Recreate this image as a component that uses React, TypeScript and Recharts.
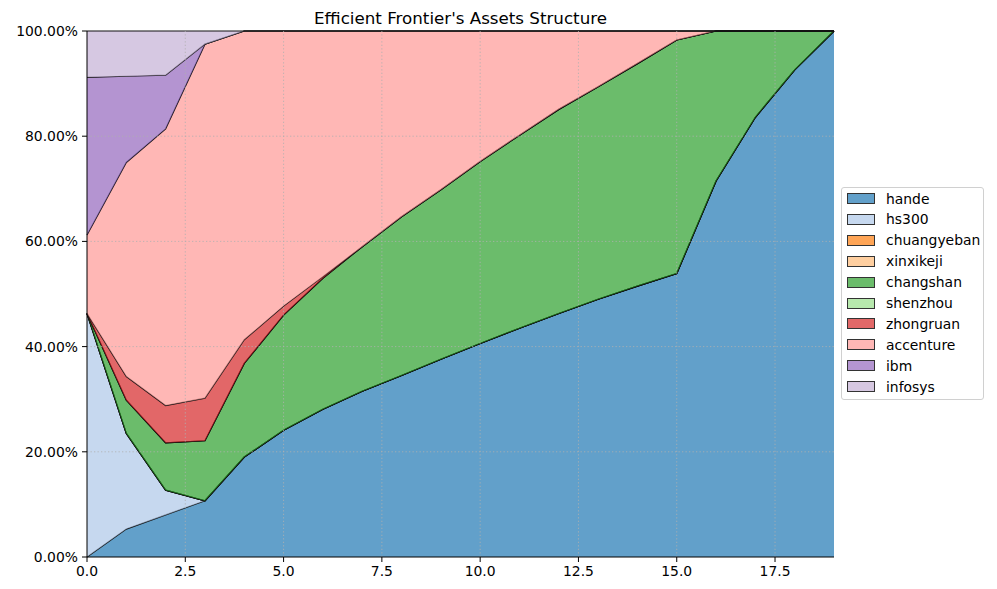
import React from "react";
import {
  AreaChart,
  Area,
  XAxis,
  YAxis,
  ReferenceLine,
} from "recharts";

const steps = [0, 1, 2, 3, 4, 5, 6, 7, 8, 9, 10, 11, 12, 13, 14, 15, 16, 17, 18, 19];

// weights in percent
const hande = [0, 5.3, 8.0, 10.7, 19.0, 24.1, 28.1, 31.5, 34.5, 37.6, 40.6, 43.5, 46.3, 49.0, 51.5, 53.9, 71.5, 83.6, 92.6, 100];
const hs300 = [46.3, 18.2, 4.7, 0, 0, 0, 0, 0, 0, 0, 0, 0, 0, 0, 0, 0, 0, 0, 0, 0];
const chuangyeban = [0, 0, 0, 0, 0, 0, 0, 0, 0, 0, 0, 0, 0, 0, 0, 0, 0, 0, 0, 0];
const xinxikeji = [0, 0, 0, 0, 0, 0, 0, 0, 0, 0, 0, 0, 0, 0, 0, 0, 0, 0, 0, 0];
const changshan = [0, 6.3, 9.0, 11.4, 17.8, 21.9, 24.9, 27.5, 30.2, 32.2, 34.6, 36.7, 38.8, 40.4, 42.3, 44.4, 28.5, 16.4, 7.4, 0];
const shenzhou = [0, 0, 0, 0, 0, 0, 0, 0, 0, 0, 0, 0, 0, 0, 0, 0, 0, 0, 0, 0];
const zhongruan = [0, 4.5, 7.1, 8.1, 4.5, 1.7, 0.3, 0, 0, 0, 0, 0, 0, 0, 0, 0, 0, 0, 0, 0];
const accenture = [14.9, 40.7, 52.6, 67.3, 58.7, 52.3, 46.7, 41.0, 35.3, 30.2, 24.8, 19.8, 14.9, 10.6, 6.2, 1.7, 0, 0, 0, 0];
const ibm = [30.0, 16.4, 10.2, 0, 0, 0, 0, 0, 0, 0, 0, 0, 0, 0, 0, 0, 0, 0, 0, 0];
const infosys = [8.8, 8.6, 8.4, 2.5, 0, 0, 0, 0, 0, 0, 0, 0, 0, 0, 0, 0, 0, 0, 0, 0];

const xTicks = [0, 2.5, 5, 7.5, 10, 12.5, 15, 17.5];
const yTicks = [0, 20, 40, 60, 80, 100];

const series = [
  { key: "hande", values: hande, color: "#1f77b4" },
  { key: "hs300", values: hs300, color: "#aec7e8" },
  { key: "chuangyeban", values: chuangyeban, color: "#ff7f0e" },
  { key: "xinxikeji", values: xinxikeji, color: "#ffbb78" },
  { key: "changshan", values: changshan, color: "#2ca02c" },
  { key: "shenzhou", values: shenzhou, color: "#98df8a" },
  { key: "zhongruan", values: zhongruan, color: "#d62728" },
  { key: "accenture", values: accenture, color: "#ff9896" },
  { key: "ibm", values: ibm, color: "#9467bd" },
  { key: "infosys", values: infosys, color: "#c5b0d5" },
];

const data = steps.map((x, i) => {
  const row: Record<string, number> = { x };
  series.forEach((s) => (row[s.key] = s.values[i]));
  return row;
});

const font = "'DejaVu Sans', sans-serif";
const tickStyle = { fill: "#000", fontSize: 13.9, fontFamily: font };
const gridProps = { stroke: "#b0b0b0", strokeDasharray: "1.3 2.2", strokeWidth: 0.8 };

export default function App() {
  return (
    <div style={{ position: "absolute", left: 0, top: 0, width: 997, height: 589, background: "#fff", fontFamily: font }}>
      <AreaChart
        width={997}
        height={589}
        data={data}
        margin={{ top: 31, right: 163, left: 27, bottom: 7 }}
      >
        <XAxis
          xAxisId={0}
          dataKey="x"
          type="number"
          domain={[0, 19]}
          ticks={xTicks}
          tickFormatter={(v: number) => v.toFixed(1)}
          tick={tickStyle}
          tickSize={5}
          tickMargin={4}
          height={25}
          stroke="#000"
          allowDecimals
        />
        <XAxis xAxisId="top" orientation="top" dataKey="x" type="number" domain={[0, 19]} height={0} tick={false} tickLine={false} stroke="#000" />
        <YAxis
          yAxisId={0}
          type="number"
          domain={[0, 100]}
          ticks={yTicks}
          tickFormatter={(v: number) => `${v.toFixed(2)}%`}
          tick={tickStyle}
          tickSize={5}
          tickMargin={4}
          width={60}
          stroke="#000"
        />
        <YAxis yAxisId="right" orientation="right" type="number" domain={[0, 100]} width={0} tick={false} tickLine={false} stroke="#000" />
        {series.map((s) => (
          <Area
            key={s.key}
            dataKey={s.key}
            stackId="1"
            type="linear"
            fill={s.color}
            fillOpacity={0.7}
            stroke="#111"
            strokeWidth={1.2}
            isAnimationActive={false}
            dot={false}
            activeDot={false}
          />
        ))}
        {xTicks.slice(1).map((t) => (
          <ReferenceLine key={"gx" + t} x={t} {...gridProps} />
        ))}
        {yTicks.slice(1, -1).map((t) => (
          <ReferenceLine key={"gy" + t} y={t} {...gridProps} />
        ))}
        <text x={460.5} y={23.5} textAnchor="middle" fontSize={16.7} fontFamily={font} fill="#000">
          Efficient Frontier's Assets Structure
        </text>
      </AreaChart>
      <div
        style={{
          position: "absolute",
          left: 841,
          top: 187,
          width: 143,
          height: 213,
          border: "1px solid #d0d0d0",
          borderRadius: 3,
          background: "rgba(255,255,255,0.8)",
          boxSizing: "border-box",
        }}
      >
        {series.map((s, i) => (
          <div
            key={s.key}
            style={{ position: "absolute", left: 5, top: 0.5 + i * 20.9, height: 20, display: "flex", alignItems: "center" }}
          >
            <span
              style={{
                width: 28,
                height: 11,
                backgroundColor: s.color,
                border: "1px solid #333",
                boxSizing: "border-box",
                display: "inline-block",
              }}
            >
              <span style={{ display: "block", width: "100%", height: "100%", background: "rgba(255,255,255,0.3)" }} />
            </span>
            <span style={{ marginLeft: 11, fontSize: 13.9, color: "#000", lineHeight: "20px" }}>{s.key}</span>
          </div>
        ))}
      </div>
    </div>
  );
}
